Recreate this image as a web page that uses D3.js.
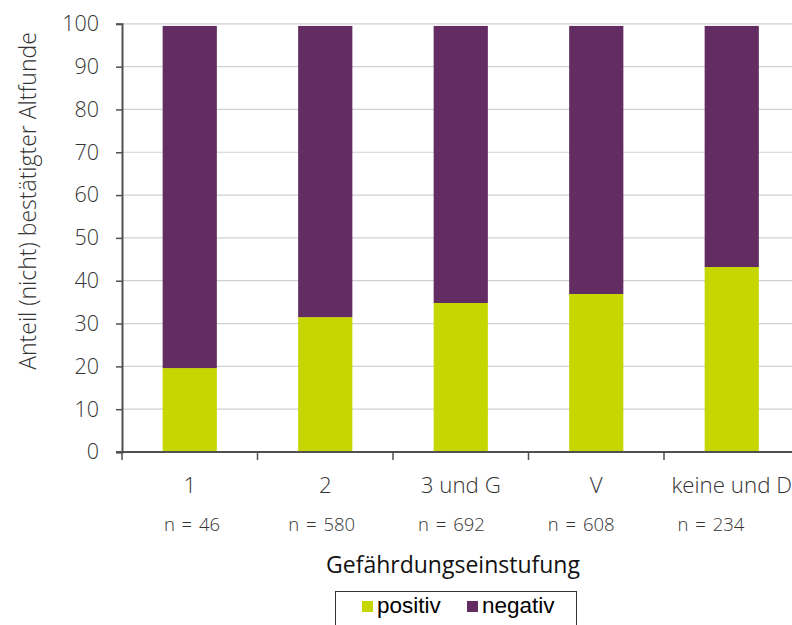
<!DOCTYPE html>
<html><head><meta charset="utf-8">
<script src="https://cdn.jsdelivr.net/npm/d3@7"></script>
<style>body{margin:0;background:#fff}svg{display:block}</style>
</head><body>
<svg id="c" width="792" height="625"></svg>
<script>
const categories = ["1","2","3 und G","V","keine und D"];
const nLabels = ["n = 46","n = 580","n = 692","n = 608","n = 234"];
const positiv = [19.6, 31.5, 34.8, 36.9, 43.2];
const negativ = [79.9, 68.0, 64.7, 62.6, 56.3];
const yTicks = [0,10,20,30,40,50,60,70,80,90,100];
const seriesNames = ["positiv","negativ"];
const colors = {positiv:"#c5d600", negativ:"#632d63"};

const svg = d3.select("#c");
const mLeft = 122, mRight = 799.5, mTop = 23.8, mBottom = 452;
const x = d3.scaleBand().domain(categories).range([mLeft,mRight]).paddingInner(0.6).paddingOuter(0.3);
const xn = d3.scalePoint().domain(categories).range([192,711]);
const y = d3.scaleLinear().domain([0,100]).range([mBottom,mTop]);
const font = "'Open Sans', sans-serif";

// gridlines
svg.append("g").selectAll("line").data(yTicks.filter(d=>d>0)).join("line")
  .attr("x1",mLeft).attr("x2",792).attr("y1",d=>y(d)).attr("y2",d=>y(d))
  .attr("stroke","#d0d0d0").attr("stroke-width",1.2);

// bars
const rows = categories.map((c,i)=>({cat:c, positiv:positiv[i], negativ:negativ[i]}));
const stack = d3.stack().keys(seriesNames)(rows);
svg.append("g").selectAll("g").data(stack).join("g").attr("fill",d=>colors[d.key])
  .selectAll("rect").data(d=>d).join("rect")
  .attr("x",d=>x(d.data.cat)).attr("width",x.bandwidth())
  .attr("y",d=>y(d[1])).attr("height",d=>y(d[0])-y(d[1]));

// y axis
const ya = svg.append("g").attr("transform",`translate(${mLeft},0)`)
  .call(d3.axisLeft(y).tickValues(yTicks).tickSize(6).tickPadding(17));
ya.select(".domain").attr("stroke","#505050").attr("stroke-width",2);
ya.selectAll(".tick line").attr("stroke","#505050").attr("stroke-width",1.5);
ya.selectAll("text").attr("font-family",font).attr("font-size",21.5).attr("fill","#333").attr("font-weight",300);

// x axis
svg.append("line").attr("x1",mLeft-6).attr("x2",792).attr("y1",mBottom).attr("y2",mBottom)
  .attr("stroke","#505050").attr("stroke-width",2);
svg.append("g").selectAll("line").data(categories).join("line")
  .attr("x1",c=>x(c)-x.step()*0.3).attr("x2",c=>x(c)-x.step()*0.3)
  .attr("y1",mBottom).attr("y2",mBottom+8).attr("stroke","#505050").attr("stroke-width",1.5);
svg.append("g").selectAll("text").data(categories).join("text")
  .attr("x",c=>x(c)+x.bandwidth()/2).attr("y",493).attr("text-anchor","middle")
  .attr("font-family",font).attr("font-size",22.3).attr("font-weight",300).attr("fill","#333").text(c=>c);
svg.append("g").selectAll("text").data(categories).join("text")
  .attr("x",c=>xn(c)).attr("y",531).attr("text-anchor","middle")
  .attr("font-family",font).attr("font-size",18.5).attr("font-weight",300).attr("fill","#333")
  .attr("word-spacing",2).text((c,i)=>nLabels[i]);

// axis titles
svg.append("text").attr("x",453).attr("y",573).attr("text-anchor","middle")
  .attr("font-family",font).attr("font-size",23).attr("fill","#111").text("Gefährdungseinstufung");
svg.append("text").attr("transform","translate(36,201) rotate(-90)").attr("text-anchor","middle")
  .attr("font-family",font).attr("font-size",23).attr("font-weight",300).attr("fill","#333").text("Anteil (nicht) bestätigter Altfunde");

// legend
svg.append("rect").attr("x",335.5).attr("y",591.5).attr("width",241).attr("height",50)
  .attr("fill","none").attr("stroke","#333").attr("stroke-width",1);
const lg = svg.append("g").selectAll("g").data(seriesNames).join("g")
  .attr("transform",(d,i)=>`translate(${i===0?362:467},601)`);
lg.append("rect").attr("width",11).attr("height",11).attr("fill",d=>colors[d]);
lg.append("text").attr("x",15).attr("y",12).attr("font-family","'Liberation Sans', Arial, sans-serif")
  .attr("font-size",22.5).attr("fill","#000").text(d=>d);
</script>
</body></html>
